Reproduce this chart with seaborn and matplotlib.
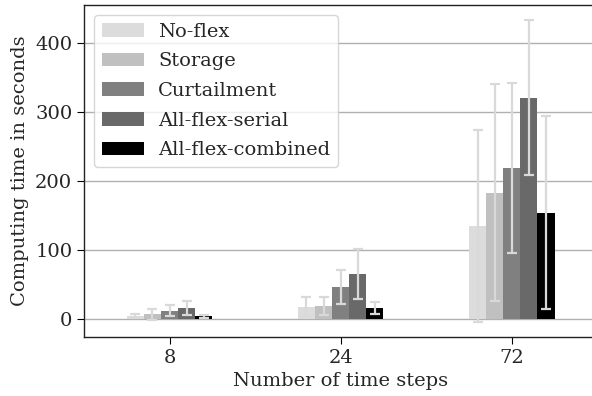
"""Computing time per scenario and horizon (grouped bars with std error bars)."""
import matplotlib
matplotlib.use("Agg")
import matplotlib.pyplot as plt
import numpy as np
import pandas as pd
import seaborn as sns

time_steps = ["8", "24", "72"]
scenarios = ["No-flex", "Storage", "Curtailment", "All-flex-serial", "All-flex-combined"]
colors = ["#dcdcdc", "#c0c0c0", "#808080", "#696969", "#000000"]

# mean computing time (s), per scenario, for 8 / 24 / 72 time steps
mean_noflex = [4.3, 17.4, 135.0]
mean_storage = [7.0, 18.8, 183.0]
mean_curtail = [12.0, 46.4, 219.0]
mean_serial = [16.0, 65.2, 321.0]
mean_combined = [4.0, 15.5, 154.0]

# standard deviation (s)
std_noflex = [3.4, 15.0, 139.0]
std_storage = [8.0, 13.0, 157.0]
std_curtail = [7.8, 24.5, 123.0]
std_serial = [10.0, 36.0, 112.0]
std_combined = [2.2, 8.7, 140.0]

means = [mean_noflex, mean_storage, mean_curtail, mean_serial, mean_combined]
stds = [std_noflex, std_storage, std_curtail, std_serial, std_combined]

df = pd.DataFrame(
    [
        {"steps": t, "scenario": s, "time": m[i], "std": sd[i]}
        for s, m, sd in zip(scenarios, means, stds)
        for i, t in enumerate(time_steps)
    ]
)

sns.set_style("whitegrid")
plt.rcParams["font.family"] = ["DejaVu Serif"]
plt.rcParams["font.size"] = 14

fig = plt.figure(figsize=(5.92, 3.96), dpi=100)
ax = fig.add_axes([0.142, 0.149, 0.867, 0.838])

sns.barplot(
    data=df, x="steps", y="time", hue="scenario",
    order=time_steps, hue_order=scenarios,
    palette=colors, width=0.5, errorbar=None, saturation=1, ax=ax,
)

# error bars placed on the drawn bars
for container, s in zip(ax.containers, scenarios):
    sub = df[df["scenario"] == s].set_index("steps").loc[time_steps]
    xs = [p.get_x() + p.get_width() / 2 for p in container.patches]
    ax.errorbar(xs, sub["time"], yerr=sub["std"], fmt="none",
                ecolor="#d9d9d9", elinewidth=1.6, capsize=3.5, capthick=1.6, zorder=5)

for p in ax.patches:
    p.set_edgecolor("none")

ax.set_xlim(-0.5, 2.5)
ax.set_ylim(-26, 455)
ax.set_yticks([0, 100, 200, 300, 400])
ax.set_xlabel("Number of time steps", fontsize=14)
ax.set_ylabel("Computing time in seconds", fontsize=14)
ax.tick_params(axis="both", labelsize=14, length=5, color="black", left=True, bottom=True)
ax.grid(axis="x", visible=False)
ax.grid(axis="y", color="#b0b0b0", linewidth=1)
ax.set_axisbelow(True)
for sp in ax.spines.values():
    sp.set_color("#222222")
    sp.set_linewidth(1)
ax.spines["right"].set_visible(False)

ax.legend(loc="upper left", fontsize=14, handlelength=2.2, handletextpad=0.7,
          labelspacing=0.6, frameon=True, framealpha=0.8, edgecolor="#cccccc")

fig.savefig("out.png", dpi=100)
